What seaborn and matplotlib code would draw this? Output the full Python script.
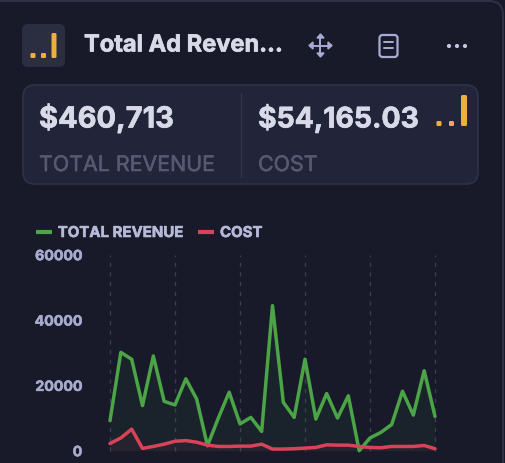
import matplotlib
matplotlib.use("Agg")
import matplotlib.pyplot as plt
import matplotlib.patheffects as pe
import pandas as pd
import seaborn as sns
from matplotlib.patches import FancyBboxPatch, Circle

W, H = 506, 464

total_revenue = [9200, 30100, 28000, 13800, 29000, 15100, 14000, 22000, 15800, 1500,
                 10000, 17900, 8200, 10200, 5900, 44400, 14800, 10200, 28000, 9700,
                 17500, 10000, 16800, 0, 3900, 5600, 8000, 18200, 10900, 24500, 10500]
cost = [2200, 3900, 6600, 700, 1300, 2000, 2900, 3100, 2600, 1700,
        1300, 1300, 1400, 1400, 2000, 500, 500, 600, 800, 1000,
        1800, 1700, 1700, 1300, 1000, 900, 1300, 1300, 1300, 1600, 600]
days = list(range(len(cost)))
y_ticks = [0, 20000, 40000, 60000]
x_grid = [0, 6, 12, 18, 24, 30]

BG = "#181a2a"
PANEL = "#22243a"
EDGE = "#2e3045"
TEXT = "#d9dae8"
MUTED = "#565972"
TICK = "#a9abce"
GOLD = "#edb03c"
GREEN = "#4ba446"
RED = "#d9435a"

sns.set_theme(style="dark")
plt.rcParams["font.family"] = ["Inter", "DejaVu Sans"]

fig = plt.figure(figsize=(W / 100, H / 100), dpi=100, facecolor=BG)

# ---- Card in pixel coordinates
#
bg = fig.add_axes([0, 0, 1, 1], zorder=0)
bg.set_xlim(0, W)
bg.set_ylim(H, 0)
bg.axis("off")


def box(x, y, w, h, r, fc, ec="none", lw=1.0):
    bg.add_patch(FancyBboxPatch((x + r, y + r), w - 2 * r, h - 2 * r,
                                boxstyle=f"round,pad={r},rounding_size={r}",
                                fc=fc, ec=ec, lw=lw))


def signal_icon(x, base):
    # two dots and a tall bar
    box(x, base - 5, 5, 5, 1.2, GOLD)
    box(x + 12.5, base - 5, 5, 5, 1.2, GOLD)
    box(x + 24.5, base - 31, 6, 31, 1.5, GOLD)


def heavy(color, width=0.5):
    # Inter only comes in at the regular weight here, thicken it a bit
    return [pe.withStroke(linewidth=width, foreground=color)]


box(-20, 2, 523, 490, 14, BG, EDGE, 1.5)
box(22, 25, 43, 43, 6, "#2b2d41")
box(30.5, 54, 5, 5, 1.2, GOLD)
box(41, 54, 5, 5, 1.2, GOLD)
box(51.5, 34, 5, 25, 1.5, GOLD)
bg.text(84, 46.5, "Total Ad Reven…", color=TEXT, fontsize=17, fontweight="bold", va="center",
        path_effects=heavy(TEXT))

# move icon
bg.plot([320.5, 320.5], [37, 56], color="#a9abd6", lw=1.4)
bg.plot([311, 330], [46.5, 46.5], color="#a9abd6", lw=1.4)
for mx, my, dx, dy in [(320.5, 35, 0, 1), (320.5, 58, 0, -1), (309, 46.5, 1, 0), (332, 46.5, -1, 0)]:
    bg.fill([mx, mx + 4 * dx + 3.5 * dy, mx + 4 * dx - 3.5 * dy],
            [my, my + 4 * dy + 3.5 * dx, my + 4 * dy - 3.5 * dx], color="#a9abd6")

# note icon
box(379.5, 36, 18, 22, 3, "none", "#a9abd6", 1.6)
bg.plot([384, 393], [43, 43], color="#a9abd6", lw=1.4)
bg.plot([384, 393], [49, 49], color="#a9abd6", lw=1.4)

# dots
for cx in [449, 457, 465]:
    bg.add_patch(Circle((cx, 47), 1.4, color="#c3c5e0"))

# KPI panel
box(23, 86, 455, 99, 12, PANEL, "#2f3148", 1.2)
bg.plot([241.5, 241.5], [94, 178], color="#32344a", lw=1)
bg.text(39, 119.5, "$460,713", color=TEXT, fontsize=20.9, fontweight="bold", va="center",
        path_effects=heavy(TEXT))
bg.text(258, 119.5, "$54,165.03", color=TEXT, fontsize=20.4, fontweight="bold", va="center",
        path_effects=heavy(TEXT))
bg.text(39, 166, "TOTAL REVENUE", color=MUTED, fontsize=15.4, va="center",
        path_effects=heavy(MUTED, 0.4))
bg.text(258, 166, "COST", color=MUTED, fontsize=15.4, va="center",
        path_effects=heavy(MUTED, 0.4))
signal_icon(436.5, 127)

# ---- Chart
#
df = pd.DataFrame({"day": days, "TOTAL REVENUE": total_revenue, "COST": cost})
long_df = df.melt(id_vars="day", var_name="series", value_name="value")

ax = fig.add_axes([110 / W, 1 - 451.7 / H, 325 / W, 196 / H], zorder=1)
ax.patch.set_alpha(0)
ax.fill_between(days, total_revenue, color=GREEN, alpha=0.06, lw=0)
ax.fill_between(days, cost, color=RED, alpha=0.06, lw=0)
sns.lineplot(data=long_df, x="day", y="value", hue="series",
             palette={"TOTAL REVENUE": GREEN, "COST": RED},
             lw=2.5, ax=ax, clip_on=False, errorbar=None)
ax.set_xlim(0, 30)
ax.set_ylim(0, 60000)
ax.set_xticks(x_grid)
ax.set_yticks(y_ticks)
ax.set_xlabel("")
ax.set_ylabel("")
ax.tick_params(axis="x", labelbottom=False, length=0)
ax.tick_params(axis="y", length=0, pad=20, labelcolor=TICK, labelsize=10.2)
for label in ax.get_yticklabels():
    label.set_fontweight("bold")
    label.set_path_effects(heavy(TICK, 0.4))
ax.grid(axis="x", color="#3a3c50", ls=(0, (3, 4)), lw=1)
ax.grid(axis="y", visible=False)
for gridline in ax.get_xgridlines():
    gridline.set_clip_on(False)
sns.despine(ax=ax, left=True, bottom=True)

leg = ax.legend(loc="lower left", bbox_to_anchor=(-74 / 325, 1.075), ncol=2, frameon=False,
                handlelength=1.05, handletextpad=0.4, columnspacing=1.0, borderaxespad=0, borderpad=0,
                prop={"size": 10.8, "weight": "bold"})
for text in leg.get_texts():
    text.set_color("#b7b9d8")
    text.set_path_effects(heavy("#b7b9d8", 0.4))
for line in leg.get_lines():
    line.set_linewidth(3.0)
    line.set_solid_capstyle("butt")

fig.savefig("out.png", dpi=100, facecolor=BG)
